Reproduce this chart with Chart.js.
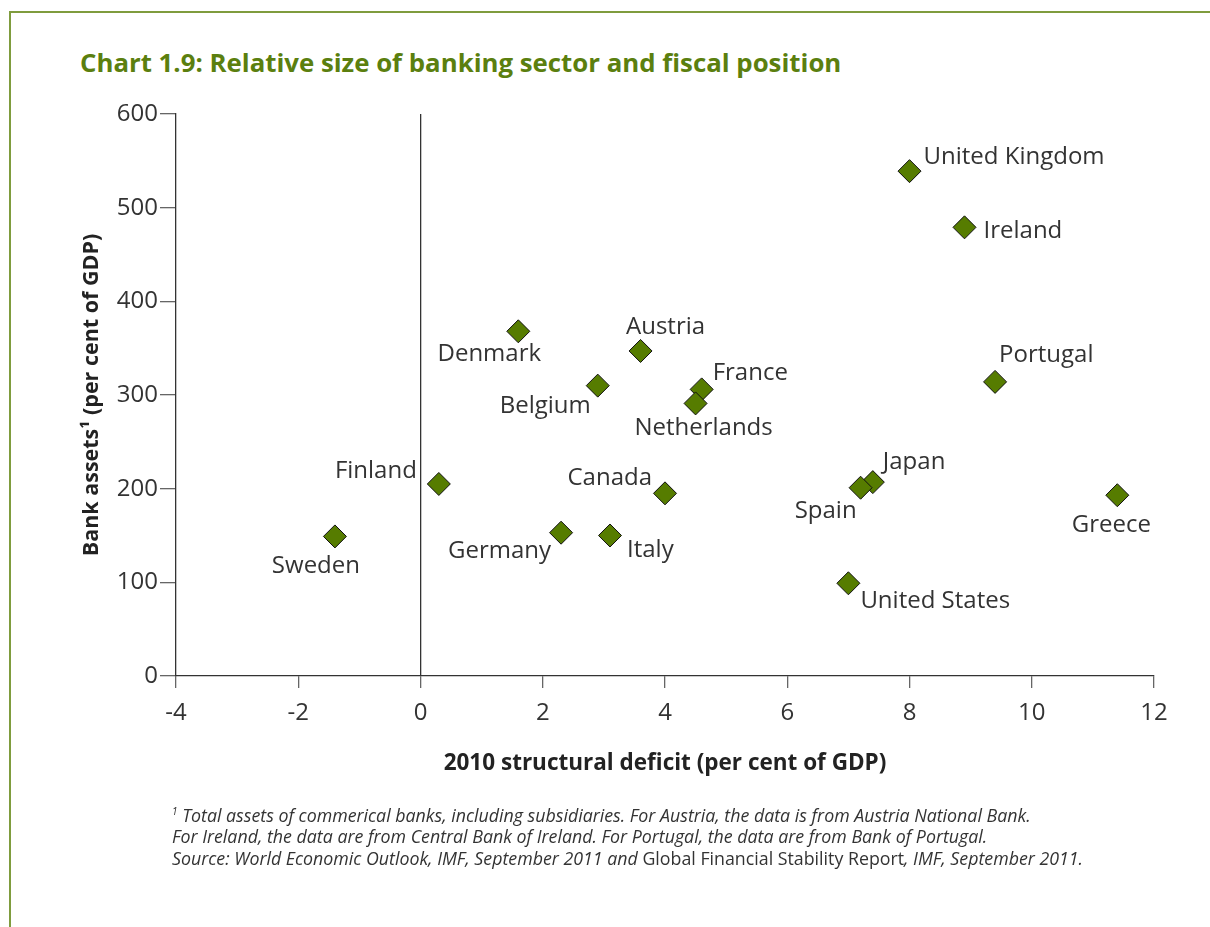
<!DOCTYPE html>
<html>
<head>
<meta charset="utf-8">
<script src="https://cdn.jsdelivr.net/npm/chart.js@4.4.0/dist/chart.umd.min.js"></script>
<style>
body { margin: 0; background: #fff; font-family: "Open Sans", sans-serif; }
#wrap { position: relative; width: 1210px; height: 927px; overflow: hidden; }
#frame { position: absolute; left: 9px; top: 11px; width: 1220px; height: 940px;
  border-top: 2px solid #7f9c3e; border-left: 2px solid #7f9c3e; }
#title { position: absolute; left: 80px; top: 44px; font-weight: bold; font-size: 25.8px; color: #5b7f0f; white-space: nowrap; }
#note { position: absolute; left: 172px; top: 801px; font-size: 17.8px; font-style: italic; color: #333; line-height: 21.5px; white-space: nowrap; }
#note .up { font-style: normal; }
#note sup { font-size: 10px; }
canvas { position: absolute; left: 0; top: 0; }
</style>
</head>
<body>
<div id="wrap">
  <div id="frame"></div>
  <div id="title">Chart 1.9: Relative size of banking sector and fiscal position</div>
  <canvas id="Chart" width="1210" height="927"></canvas>
  <div id="note">
    <sup>1</sup> Total assets of commerical banks, including subsidiaries. For Austria, the data is from Austria National Bank.<br>
    For Ireland, the data are from Central Bank of Ireland. For Portugal, the data are from Bank of Portugal.<br>
    Source: World Economic Outlook, IMF, September 2011 and <span class="up">Global Financial Stability Report</span>, IMF, September 2011.
  </div>
</div>
<script>
//----------data
const countries = ['United Kingdom', 'Ireland', 'Portugal', 'Greece', 'Japan', 'Spain', 'United States',
    'Canada', 'Italy', 'Germany', 'Finland', 'Sweden', 'Denmark', 'Austria', 'Belgium', 'France', 'Netherlands'];
const deficit = [8.0, 8.9, 9.4, 11.4, 7.4, 7.2, 7.0, 4.0, 3.1, 2.3, 0.3, -1.4, 1.6, 3.6, 2.9, 4.6, 4.5];
const bankAssets = [539, 479, 314, 193, 207, 201, 99, 195, 150, 153, 205, 149, 368, 347, 310, 306, 291];
const xTicks = [-4, -2, 0, 2, 4, 6, 8, 10, 12];
const yTicks = [0, 100, 200, 300, 400, 500, 600];

// where each country name sits relative to its marker: [dx, dy, align]
const labelPos = {
    'United Kingdom': [14, -14, 'left'],
    'Ireland': [19, 4, 'left'],
    'Portugal': [4, -27, 'left'],
    'Greece': [-6, 30, 'center'],
    'Japan': [10, -20, 'left'],
    'Spain': [-4, 23, 'right'],
    'United States': [12, 18, 'left'],
    'Canada': [-13, -15, 'right'],
    'Italy': [17, 15, 'left'],
    'Germany': [-10, 18, 'right'],
    'Finland': [-22, -13, 'right'],
    'Sweden': [-19, 30, 'center'],
    'Denmark': [-29, 23, 'center'],
    'Austria': [25, -24, 'center'],
    'Belgium': [-7, 21, 'right'],
    'France': [11, -16, 'left'],
    'Netherlands': [8, 25, 'center']
};

const points = deficit.map((d, i) => ({ x: d, y: bankAssets[i] }));

// draws the country names next to the markers
const pointLabels = {
    id: 'pointLabels',
    afterDatasetsDraw(chart) {
        const ctx = chart.ctx;
        const meta = chart.getDatasetMeta(0);
        ctx.save();
        ctx.font = '24px "Open Sans"';
        ctx.fillStyle = '#333';
        ctx.textBaseline = 'middle';
        meta.data.forEach((pt, i) => {
            const pos = labelPos[countries[i]];
            ctx.textAlign = pos[2];
            ctx.fillText(countries[i], pt.x + pos[0], pt.y + pos[1]);
        });
        ctx.restore();
    }
};

var ctx = document.getElementById("Chart").getContext('2d');
var myChart = new Chart(ctx, {
    type: 'scatter',
    data: {
        datasets: [{
            label: 'Countries',
            data: points,
            pointStyle: 'rectRot',
            pointRadius: 11.5,
            pointHoverRadius: 11.5,
            backgroundColor: '#567c00',
            borderColor: '#111',
            borderWidth: 1
        }]
    },
    options: {
        responsive: false,
        animation: false,
        events: [],
        layout: { padding: { left: 76, top: 114, right: 56, bottom: 147 } },
        plugins: { legend: { display: false }, tooltip: { enabled: false } },
        scales: {
            x: {
                type: 'linear',
                min: xTicks[0],
                max: xTicks[xTicks.length - 1],
                afterBuildTicks: (scale) => { scale.ticks = xTicks.map(v => ({ value: v })); },
                afterFit: (scale) => { scale.height = 104; },
                ticks: {
                    color: '#333',
                    font: { family: 'Open Sans', size: 24 },
                    padding: 11,
                    maxRotation: 0
                },
                grid: {
                    color: (c) => (c.tick && c.tick.value === 0) ? '#333' : 'rgba(0,0,0,0)',
                    tickColor: '#666',
                    tickLength: 12,
                    lineWidth: 1.3
                },
                border: { color: '#333', width: 1.3 },
                title: {
                    display: true,
                    text: '2010 structural deficit (per cent of GDP)',
                    color: '#222',
                    font: { family: 'Open Sans', size: 22.5, weight: 'bold' },
                    padding: { top: 0, bottom: 3 }
                }
            },
            y: {
                min: yTicks[0],
                max: yTicks[yTicks.length - 1],
                afterBuildTicks: (scale) => { scale.ticks = yTicks.map(v => ({ value: v })); },
                afterFit: (scale) => { scale.width = 100; },
                ticks: {
                    color: '#333',
                    font: { family: 'Open Sans', size: 24 },
                    padding: 2
                },
                grid: {
                    drawOnChartArea: false,
                    tickColor: '#666',
                    tickLength: 16,
                    lineWidth: 1.3
                },
                border: { color: '#333', width: 1.3 },
                title: {
                    display: true,
                    text: 'Bank assets\u00b9 (per cent of GDP)',
                    color: '#222',
                    font: { family: 'Open Sans', size: 21.5, weight: 'bold' },
                    padding: { top: 3, bottom: 0 }
                }
            }
        }
    },
    plugins: [pointLabels]
});
</script>
</body>
</html>
